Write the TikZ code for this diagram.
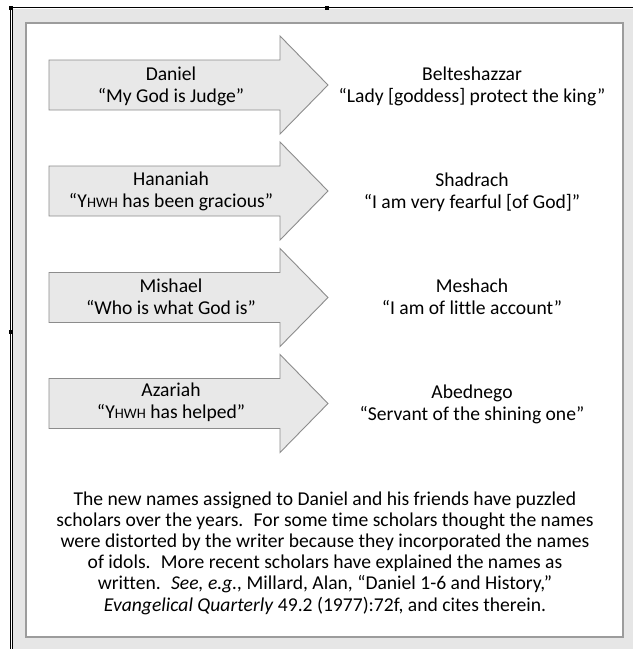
\documentclass[tikz,border=0pt]{standalone}
\usepackage{fontspec}
\setmainfont{Carlito}[Ligatures=NoCommon]
\usetikzlibrary{positioning}
\definecolor{panelgray}{HTML}{E6E6E6}
\definecolor{arrowgray}{HTML}{E8E8E8}
\definecolor{edgegray}{HTML}{8C8C8C}
\definecolor{boxgray}{HTML}{9C9C9C}
\newcommand\yhwh{Y{\fontsize{14.5}{14.5}\selectfont HWH}}
\tikzset{
    panel/.style = {fill=panelgray},
    selline/.style = {draw=black,line width=0.8pt},
    handle/.style = {rectangle,fill=black,minimum size=4pt,inner sep=0pt},
    sheet/.style = {draw=boxgray,line width=1.6pt,fill=white},
    namearrow/.style = {draw=edgegray,line width=0.9pt,fill=arrowgray,line join=miter},
    oldname/.style = {align=center,inner sep=0pt,font=\fontsize{19.6}{22}\selectfont},
    newname/.style = {align=center,inner sep=0pt,font=\fontsize{19.6}{22}\selectfont},
    notetext/.style = {align=center,inner sep=0pt,font=\fontsize{19.6}{21.2}\selectfont}
}

\begin{document}
\begin{tikzpicture}[x=1pt,y=-1pt]
  \useasboundingbox (0,0) rectangle (633,649);

  % window frame
  \fill[panel] (13,9) rectangle (633,649);
  \draw[selline] (10,7.5) -- (633,7.5);
  \draw[selline] (10,7.5) -- (10,649);
  \draw[selline] (12.3,9) -- (12.3,649);
  \node[handle] (htopleft) at (11,8) {};
  \node[handle] (htop) at (327,8) {};
  \node[handle] (hleft) at (11,332) {};

  \draw[sheet] (26,23) rectangle (623,637);

  % the four arrows
  \foreach \c in {85,191,297.5,403.5}
    \draw[namearrow] (49,\c-25) -- (280,\c-25) -- (280,\c-49) -- (328,\c)
      -- (280,\c+49) -- (280,\c+25) -- (49,\c+25) -- cycle;

  \node[oldname] (daniel) at (171,86) {Daniel\\“My God is Judge”};
  \node[newname] (belteshazzar) at (472,86) {Belteshazzar\\“Lady [goddess] protect the king”};

  \node[oldname] (hananiah) at (171,191) {Hananiah\\“\yhwh{} has been gracious”};
  \node[newname] (shadrach) at (472,192) {Shadrach\\“I am very fearful [of God]”};

  \node[oldname] (mishael) at (171,297) {Mishael\\“Who is what God is”};
  \node[newname] (meshach) at (472,297) {Meshach\\“I am of little account”};

  \node[oldname] (azariah) at (171,402) {Azariah\\“\yhwh{} has helped”};
  \node[newname] (abednego) at (472,404) {Abednego\\“Servant of the shining one”};

  \node[notetext] (note) at (325,553) {The new names assigned to Daniel and his friends have puzzled\\
    scholars over the years.~ For some time scholars thought the names\\
    were distorted by the writer because they incorporated the names\\
    of idols.~ More recent scholars have explained the names as\\
    written.~ \textit{See, e.g.,} Millard, Alan, “Daniel 1-6 and History,”\\
    \textit{Evangelical Quarterly} 49.2 (1977):72f, and cites therein.};

\end{tikzpicture}
\end{document}
